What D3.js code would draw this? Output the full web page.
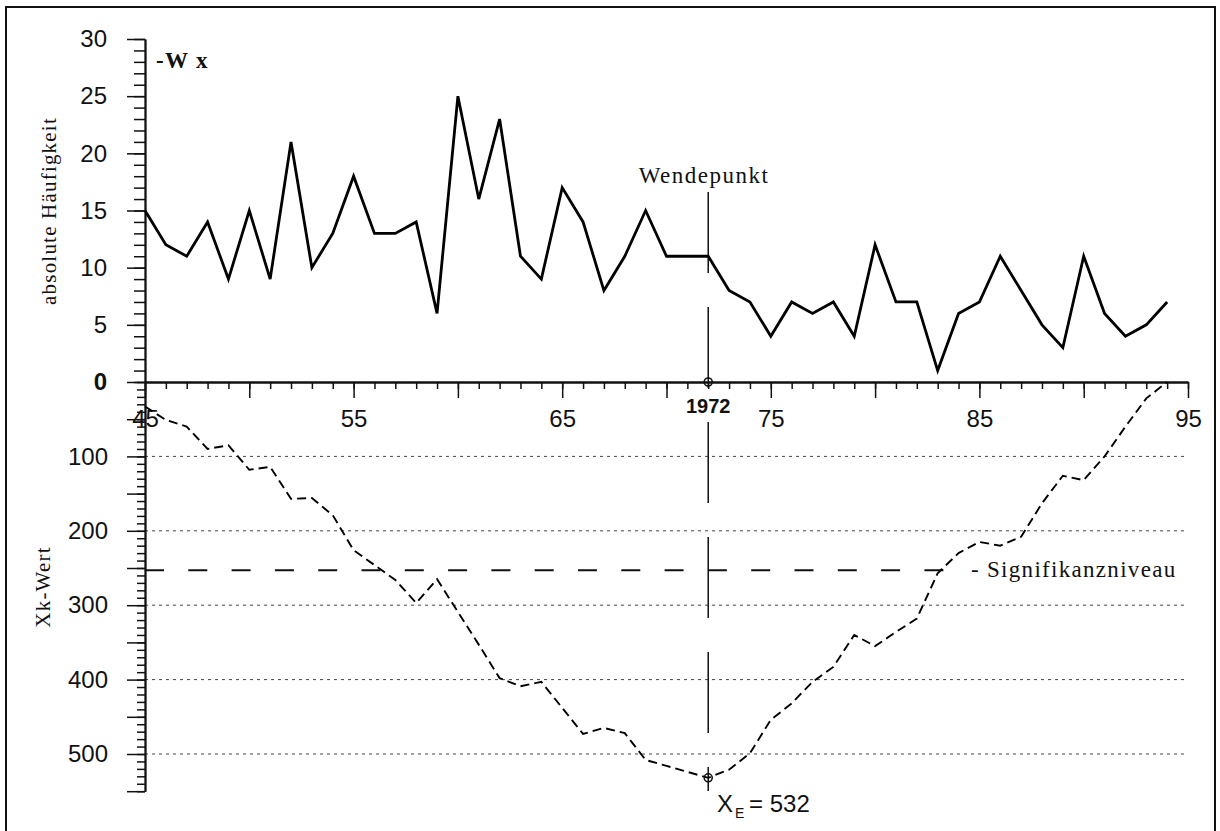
<!DOCTYPE html>
<html>
<head>
<meta charset="utf-8">
<script src="https://cdn.jsdelivr.net/npm/d3@7"></script>
<style>
  html, body { margin: 0; padding: 0; background: #fff; }
  svg { display: block; }
  .sans { font-family: "Liberation Sans", Arial, Helvetica, sans-serif; }
  .serif { font-family: "Liberation Serif", "Times New Roman", Times, serif; }
</style>
</head>
<body>
<script>
// Years (1945–1994, two-digit)
const years = [45,46,47,48,49,50,51,52,53,54,55,56,57,58,59,60,61,62,63,64,
               65,66,67,68,69,70,71,72,73,74,75,76,77,78,79,80,81,82,83,84,
               85,86,87,88,89,90,91,92,93,94];
// Absolute frequency per year (upper panel)
const haeufigkeit = [15,12,11,14,9,15,9,21,10,13,18,13,13,14,6,25,16,23,11,9,
                     17,14,8,11,15,11,11,11,8,7,4,7,6,7,4,12,7,7,1,6,
                     7,11,8,5,3,11,6,4,5,7];
// Xk test statistic per year (lower panel, drawn downward)
const xkWert = [33,51,60,90,85,118,114,157,156,179,226,246,266,297,265,309,353,398,409,403,
                438,473,465,472,508,516,524,532,521,499,454,432,403,383,340,355,336,318,257,230,
                215,220,208,163,126,132,100,60,22,0];
// Axis ticks and reference values
const xLabelTicks = [45,55,65,75,85,95];
const topTicks = [0,5,10,15,20,25,30];
const bottomLabelTicks = [100,200,300,400,500];
const signifikanzniveau = 253;
const wendepunktJahr = 72;
const xE = 532;

const W = 1220, H = 831;
const svg = d3.select("body").append("svg").attr("width", W).attr("height", H);

// Frame
svg.append("rect").attr("x", 6).attr("y", 7).attr("width", 1209).attr("height", 900)
  .attr("fill", "none").attr("stroke", "#111").attr("stroke-width", 2);

const x = d3.scaleLinear().domain([45, 95]).range([145, 1188]);
const yTop = d3.scaleLinear().domain([0, 30]).range([382, 39]);
const yBot = d3.scaleLinear().domain([0, 550]).range([382, 382 + 550 * 0.744]);

function styleAxis(g, size) {
  g.selectAll("path.domain").attr("stroke", "#111").attr("stroke-width", 1.8);
  g.selectAll(".tick line").attr("stroke", "#111").attr("stroke-width", 1.5);
  g.selectAll(".tick text").attr("class", "sans").attr("font-size", size || 24)
    .attr("font-family", "'Liberation Sans', Arial, sans-serif").attr("fill", "#111");
  g.attr("font-family", null).attr("font-size", null);
}

// Dotted grid lines in the lower panel
svg.append("g").selectAll("line").data(bottomLabelTicks).join("line")
  .attr("x1", x(45)).attr("x2", x(95))
  .attr("y1", d => yBot(d)).attr("y2", d => yBot(d))
  .attr("stroke", "#444").attr("stroke-width", 1).attr("stroke-dasharray", "3,4");

// Significance level line
svg.append("line")
  .attr("x1", x(45)).attr("x2", 945)
  .attr("y1", yBot(signifikanzniveau)).attr("y2", yBot(signifikanzniveau))
  .attr("stroke", "#111").attr("stroke-width", 2).attr("stroke-dasharray", "19,24.3");
svg.append("text").attr("class", "serif")
  .attr("x", 971).attr("y", yBot(signifikanzniveau) + 7)
  .attr("font-size", 23).attr("letter-spacing", 1.3).attr("fill", "#111")
  .text("- Signifikanzniveau");

// Upper y axis (frequency)
const gTopMinor = svg.append("g").attr("transform", `translate(${x(45)},0)`)
  .call(d3.axisLeft(yTop).tickValues(d3.range(0, 31)).tickSize(11).tickSizeOuter(0).tickFormat(""));
styleAxis(gTopMinor);
const gTopMajor = svg.append("g").attr("transform", `translate(${x(45)},0)`)
  .call(d3.axisLeft(yTop).tickValues(topTicks).tickSize(18).tickPadding(20).tickSizeOuter(0));
styleAxis(gTopMajor);
gTopMajor.selectAll(".tick text").filter(d => d === 0).attr("font-weight", "bold");

// Lower y axis (Xk value)
const gBotMinor = svg.append("g").attr("transform", `translate(${x(45)},0)`)
  .call(d3.axisLeft(yBot).tickValues(d3.range(0, 551, 10)).tickSize(8).tickSizeOuter(0).tickFormat(""));
styleAxis(gBotMinor);
const gBotMajor = svg.append("g").attr("transform", `translate(${x(45)},0)`)
  .call(d3.axisLeft(yBot).tickValues(d3.range(50, 551, 50)).tickSize(18).tickPadding(19).tickSizeOuter(0)
    .tickFormat(d => bottomLabelTicks.includes(d) ? d : ""));
styleAxis(gBotMajor);

// Horizontal year axis
const gXMinor = svg.append("g").attr("transform", `translate(0,${yTop(0)})`)
  .call(d3.axisBottom(x).tickValues(years.concat([95])).tickSize(7).tickSizeOuter(0).tickFormat(""));
styleAxis(gXMinor);
const gXMajor = svg.append("g").attr("transform", `translate(0,${yTop(0)})`)
  .call(d3.axisBottom(x).tickValues(d3.range(45, 96, 5)).tickSize(16).tickPadding(12).tickSizeOuter(0)
    .tickFormat(d => xLabelTicks.includes(d) ? d : ""));
styleAxis(gXMajor);

// Turning-point marker line
svg.append("line")
  .attr("x1", x(wendepunktJahr)).attr("x2", x(wendepunktJahr))
  .attr("y1", 192).attr("y2", 791)
  .attr("stroke", "#111").attr("stroke-width", 1.5).attr("stroke-dasharray", "81,34");

// Frequency series (upper panel)
const lineTop = d3.line().x((d, i) => x(years[i])).y(d => yTop(d));
svg.append("path").datum(haeufigkeit).attr("d", lineTop)
  .attr("fill", "none").attr("stroke", "#000").attr("stroke-width", 2.8)
  .attr("stroke-linejoin", "miter");

// Xk series (lower panel)
const lineBot = d3.line().x((d, i) => x(years[i])).y(d => yBot(d));
svg.append("path").datum(xkWert).attr("d", lineBot)
  .attr("fill", "none").attr("stroke", "#000").attr("stroke-width", 1.9)
  .attr("stroke-dasharray", "9,5");

// Circle markers at the turning point
svg.append("circle").attr("cx", x(wendepunktJahr)).attr("cy", yTop(0)).attr("r", 4)
  .attr("fill", "none").attr("stroke", "#111").attr("stroke-width", 1.6);
svg.append("circle").attr("cx", x(wendepunktJahr)).attr("cy", yBot(xE)).attr("r", 4)
  .attr("fill", "none").attr("stroke", "#111").attr("stroke-width", 1.6);

// Labels
svg.append("text").attr("class", "sans").attr("font-weight", "bold").attr("font-size", 20)
  .attr("text-anchor", "middle").attr("x", x(wendepunktJahr)).attr("y", 413).attr("fill", "#111")
  .text("1972");

svg.append("text").attr("class", "serif").attr("font-size", 23).attr("letter-spacing", 1.5)
  .attr("text-anchor", "middle").attr("x", 704).attr("y", 183).attr("fill", "#111")
  .text("Wendepunkt");

svg.append("text").attr("class", "serif").attr("font-size", 23).attr("font-weight", "bold")
  .attr("letter-spacing", 1.3).attr("x", 156).attr("y", 68).attr("fill", "#111")
  .text("-W x");

svg.append("text").attr("class", "serif").attr("font-size", 21).attr("letter-spacing", 1.2)
  .attr("text-anchor", "middle").attr("transform", "translate(56,211) rotate(-90)").attr("fill", "#111")
  .text("absolute Häufigkeit");

svg.append("text").attr("class", "serif").attr("font-size", 21).attr("letter-spacing", 1.2)
  .attr("text-anchor", "middle").attr("transform", "translate(50,587) rotate(-90)").attr("fill", "#111")
  .text("Xk-Wert");

const xeLabel = svg.append("g").attr("class", "sans").attr("fill", "#111");
xeLabel.append("text").attr("x", 717).attr("y", 812).attr("font-size", 24).text("X");
xeLabel.append("text").attr("x", 735).attr("y", 818).attr("font-size", 14).text("E");
xeLabel.append("text").attr("x", 749).attr("y", 812).attr("font-size", 24).text("= " + xE);
</script>
</body>
</html>
